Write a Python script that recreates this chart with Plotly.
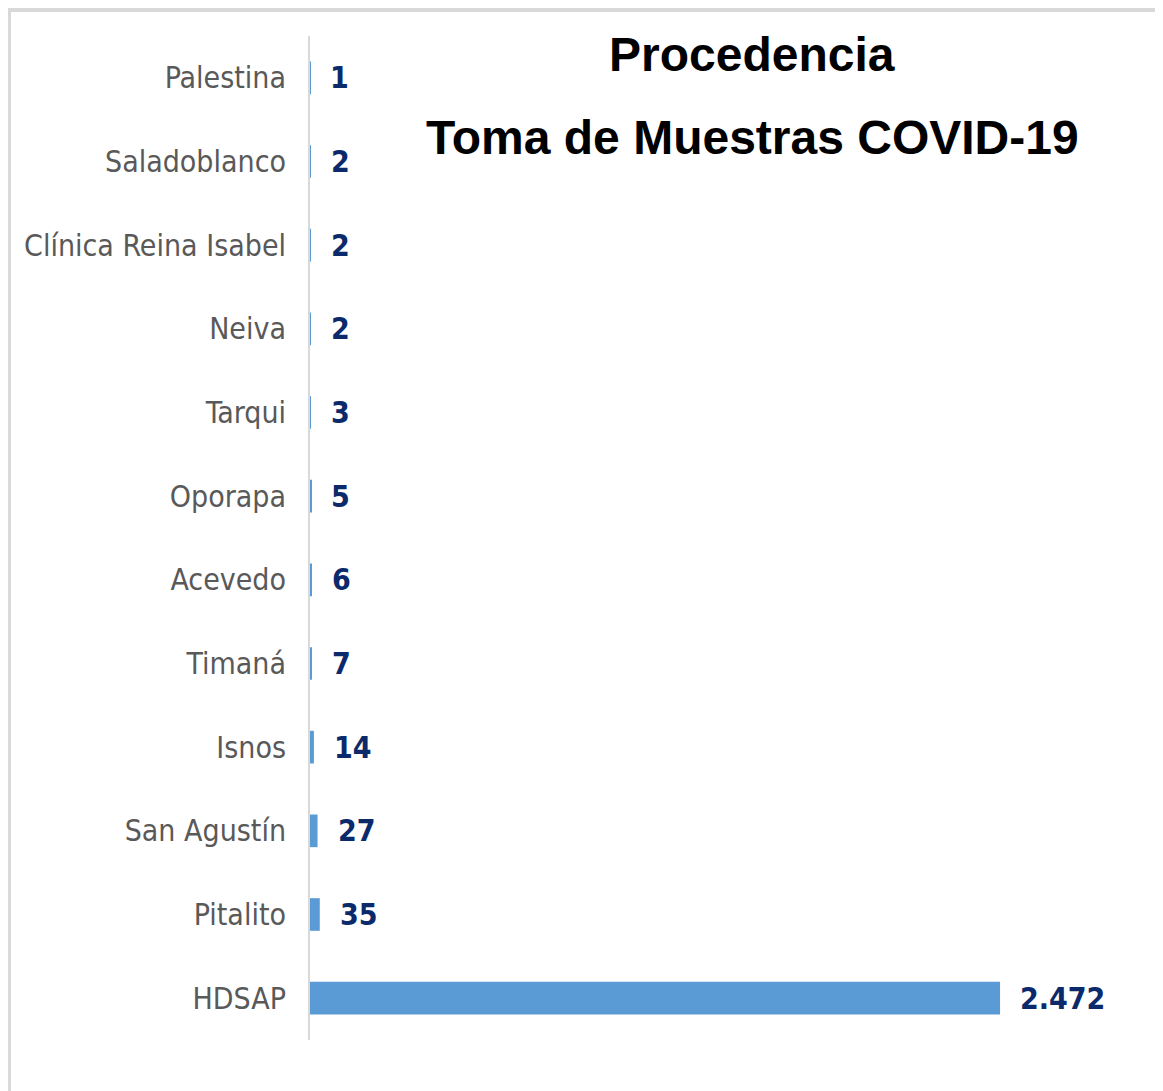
import plotly.graph_objects as go

categories = ["Palestina", "Saladoblanco", "Clínica Reina Isabel", "Neiva", "Tarqui",
              "Oporapa", "Acevedo", "Timaná", "Isnos", "San Agustín", "Pitalito", "HDSAP"]
values = [1, 2, 2, 2, 3, 5, 6, 7, 14, 27, 35, 2472]
title_lines = ["Procedencia", "Toma de Muestras COVID-19"]

OFF = 8  # page body margin
W, H = 1163 - OFF, 1091 - OFF
ML, MR, MT, MB = 310 - OFF, 63, 36 - OFF, 51
PW = W - ML - MR
PH = H - MT - MB

def px_x(x):
    # x in reference page pixels
    return (x - OFF - ML) / PW

def px_y(y):
    return (H - MB - (y - OFF)) / PH

LABEL_FONT = "Liberation Sans Narrow, DejaVu Sans Condensed, Arial Narrow, Arial, sans-serif"

fig = go.Figure(go.Bar(
    y=categories, x=values, orientation="h",
    marker=dict(color="#5B9BD5", line=dict(width=0)),
    hoverinfo="x+y",
))

annotations = []
for c, v in zip(categories, values):
    annotations.append(dict(
        x=v, y=c, xref="x", yref="y", text=f"{v:,}".replace(",", "."),
        showarrow=False, xanchor="left", yanchor="middle", xshift=18,
        font=dict(family=LABEL_FONT, size=30, color="#0B2A6B", weight="bold"),
    ))
for txt, py in zip(title_lines, [55, 137]):
    annotations.append(dict(
        x=px_x(752), y=px_y(py), xref="paper", yref="paper", text=f"<b>{txt}</b>",
        showarrow=False, xanchor="center", yanchor="middle",
        font=dict(family="Liberation Sans, Arial, sans-serif", size=48, color="#000000"),
    ))

shapes = [
    dict(type="rect", xref="paper", yref="paper", x0=px_x(8), x1=px_x(1163),
         y0=px_y(12), y1=px_y(8), fillcolor="#D9D9D9", line=dict(width=0), layer="below"),
    dict(type="rect", xref="paper", yref="paper", x0=px_x(8), x1=px_x(11),
         y0=px_y(1091), y1=px_y(8), fillcolor="#D9D9D9", line=dict(width=0), layer="below"),
]

fig.update_layout(
    width=W, height=H,
    margin=dict(l=ML, r=MR, t=MT, b=MB, pad=0, autoexpand=False),
    paper_bgcolor="white", plot_bgcolor="white",
    showlegend=False, bargap=0.61,
    annotations=annotations, shapes=shapes,
    xaxis=dict(range=[0, 2830], visible=False, showgrid=False, zeroline=False, automargin=False),
    yaxis=dict(
        categoryorder="array", categoryarray=categories, autorange=False,
        range=[len(categories) - 0.5, -0.5], automargin=False,
        showline=True, linecolor="#D9D9D9", linewidth=2, showgrid=False, zeroline=False,
        ticks="", ticklabelstandoff=16,
        tickfont=dict(family=LABEL_FONT, size=30, color="#595959"),
    ),
)

fig.write_html("out.html")
